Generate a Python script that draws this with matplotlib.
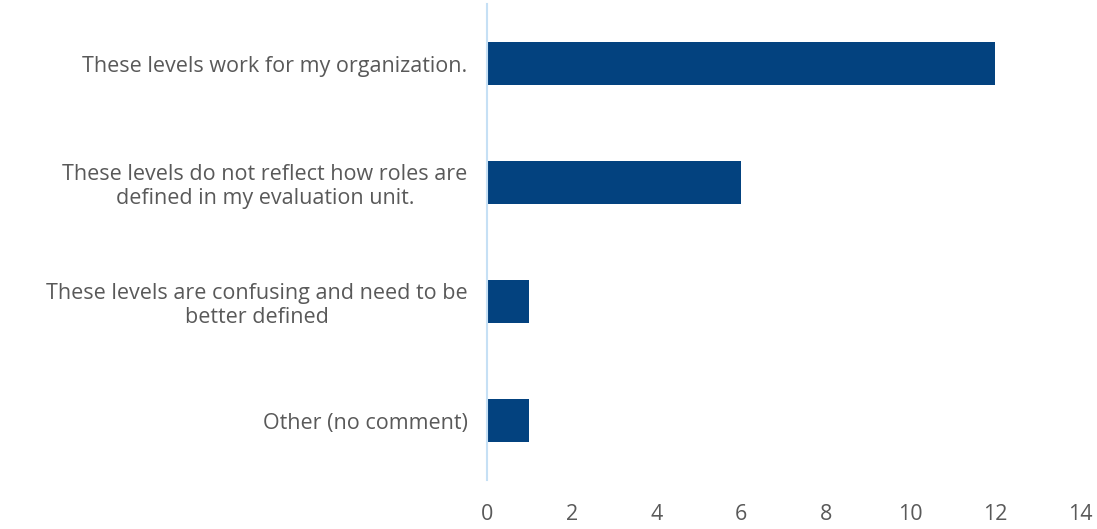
import numpy as np
import matplotlib.pyplot as plt

# Respuestas de la encuesta sobre los niveles
categorias = [
    "These levels work for my organization.",
    "These levels do not reflect how roles are\ndefined in my evaluation unit.",
    "These levels are confusing and need to be\nbetter defined",
    "Other (no comment)",
]
valores = [12, 6, 1, 1]
ticks_x = [0, 2, 4, 6, 8, 10, 12, 14]

plt.rcParams['font.family'] = ['Open Sans', 'DejaVu Sans']

fig = plt.figure(figsize=(10.97, 5.29), dpi=100)
ax = fig.add_axes([0.444, 0.092, 0.5405, 0.9])

y = np.arange(len(categorias))
ax.barh(y, valores, height=0.36, color='#03427F')

ax.set_xlim(0, 14)
ax.set_ylim(len(categorias) - 0.5, -0.5)
ax.set_yticks(y)
ax.set_yticklabels(categorias, multialignment='center', linespacing=1.15)
ax.set_xticks(ticks_x)

for s in ['top', 'right', 'bottom']:
    ax.spines[s].set_visible(False)
ax.spines['left'].set_color('#C6E0F5')
ax.spines['left'].set_linewidth(1.5)

ax.tick_params(axis='both', length=0, labelsize=15.5, colors='#595959')
ax.tick_params(axis='y', pad=14)
ax.tick_params(axis='x', pad=17)

fig.savefig('out.png', dpi=100)
